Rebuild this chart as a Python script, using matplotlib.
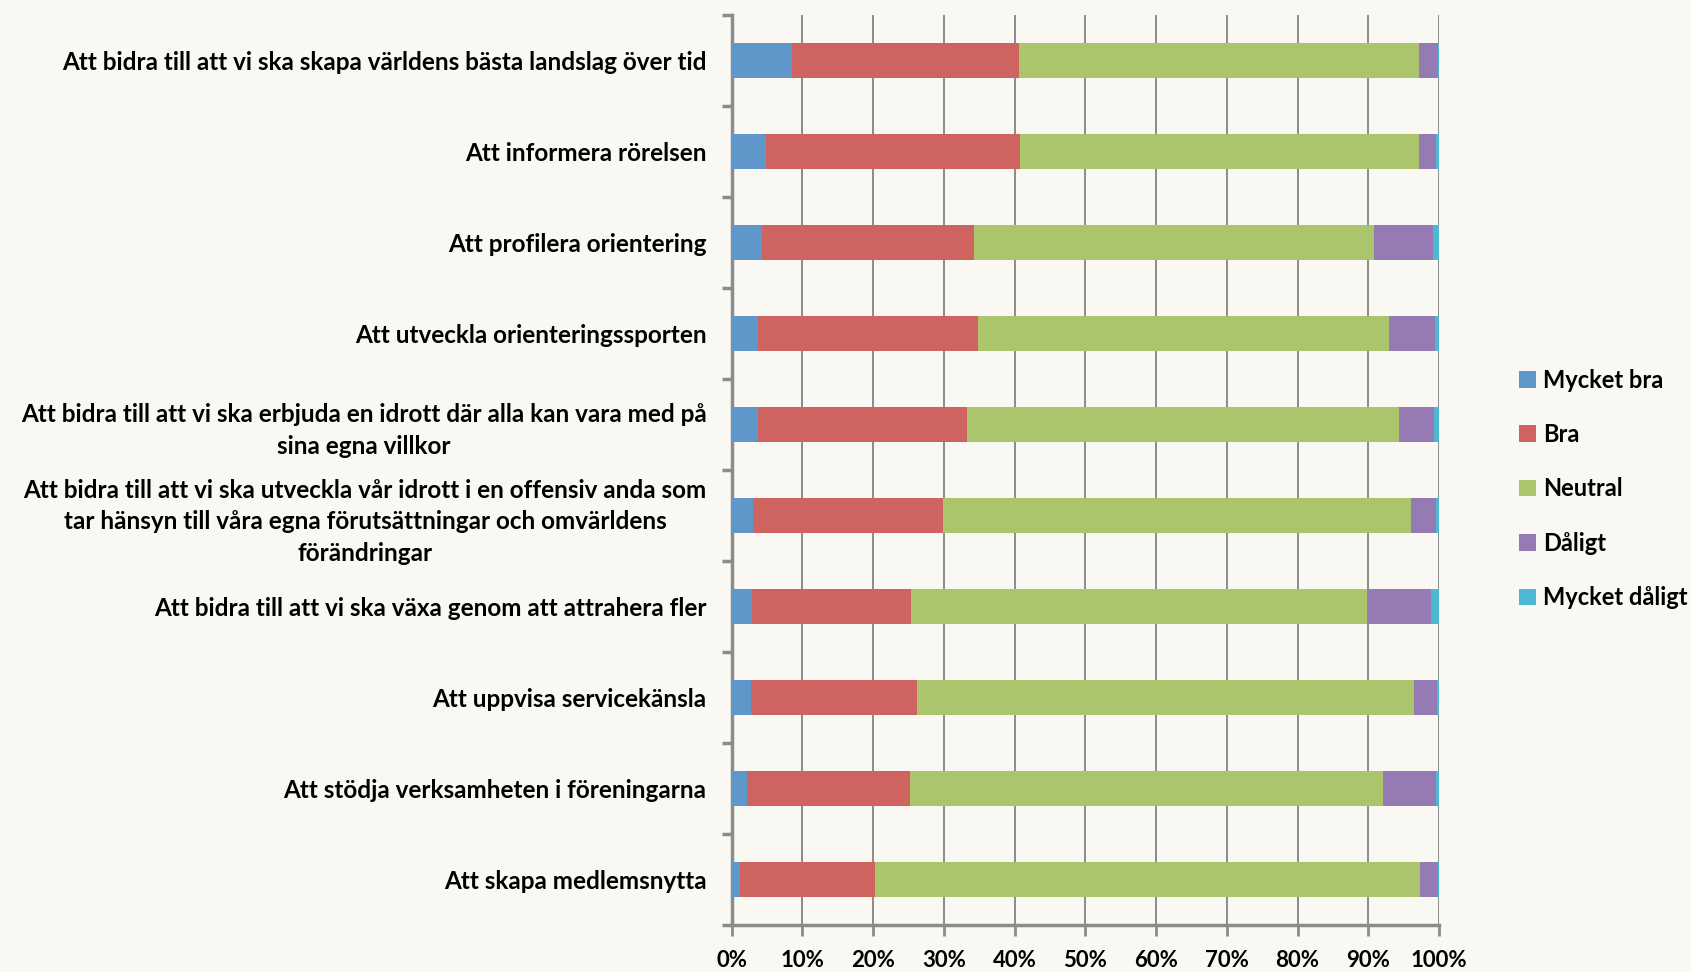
import numpy as np
import matplotlib
matplotlib.use("Agg")
import matplotlib.pyplot as plt
from matplotlib.ticker import FuncFormatter

plt.rcParams['font.family'] = ['Lato', 'DejaVu Sans']
plt.rcParams['font.weight'] = 'bold'

# Data (percent), top to bottom
LABELS = [
    "Att bidra till att vi ska skapa världens bästa landslag över tid",
    "Att informera rörelsen",
    "Att profilera orientering",
    "Att utveckla orienteringssporten",
    "Att bidra till att vi ska erbjuda en idrott där alla kan vara med på\nsina egna villkor",
    "Att bidra till att vi ska utveckla vår idrott i en offensiv anda som\ntar hänsyn till våra egna förutsättningar och omvärldens\nförändringar",
    "Att bidra till att vi ska växa genom att attrahera fler",
    "Att uppvisa servicekänsla",
    "Att stödja verksamheten i föreningarna",
    "Att skapa medlemsnytta",
]
SERIES = ["Mycket bra", "Bra", "Neutral", "Dåligt", "Mycket dåligt"]
mycket_bra = [8.6, 4.9, 4.3, 3.8, 3.8, 3.1, 2.9, 2.7, 2.2, 1.2]
bra = [32.0, 35.9, 30.0, 31.1, 29.5, 26.8, 22.4, 23.5, 23.0, 19.1]
neutral = [56.5, 56.4, 56.5, 58.0, 61.0, 66.1, 64.5, 70.3, 66.9, 77.0]
daligt = [2.7, 2.3, 8.4, 6.5, 5.0, 3.6, 9.0, 3.2, 7.4, 2.6]
mycket_daligt = [0.2, 0.5, 0.8, 0.6, 0.7, 0.4, 1.2, 0.3, 0.5, 0.1]
COLORS = ["#5f97cb", "#cf635f", "#abc56d", "#957ab3", "#4db8d2"]

BG = "#f9f8f3"
GRID = "#8c8c8c"

fig = plt.figure(figsize=(16.91, 9.72), dpi=100, facecolor=BG)
ax = fig.add_axes([0.4326, 0.0484, 0.4184, 0.9362])
ax.set_facecolor(BG)

y = np.arange(len(LABELS))
left = np.zeros(len(LABELS))
for name, vals, col in zip(SERIES, [mycket_bra, bra, neutral, daligt, mycket_daligt], COLORS):
    vals = np.array(vals)
    ax.barh(y, vals, left=left, height=0.38, color=col, label=name, zorder=3)
    left += vals

ax.set_xlim(0, 100)
ax.set_ylim(len(LABELS) - 0.5, -0.5)
ax.set_xticks(np.arange(0, 101, 10))
ax.xaxis.set_major_formatter(FuncFormatter(lambda v, p: f"{v:.0f}%"))
ax.set_yticks(y)
ax.set_yticklabels(LABELS, multialignment='center', linespacing=1.45)
ax.set_yticks(np.arange(-0.5, len(LABELS)), minor=True)
ax.tick_params(axis='y', which='major', length=0, pad=18, labelsize=17.5)
ax.tick_params(axis='y', which='minor', length=7, width=2.5, color=GRID)
ax.tick_params(axis='x', length=8, width=2, color=GRID, labelsize=16, pad=10)

ax.grid(axis='x', color=GRID, linewidth=1.4, zorder=0)
for s in ['top', 'right']:
    ax.spines[s].set_visible(False)
for s in ['left', 'bottom']:
    ax.spines[s].set_color(GRID)
    ax.spines[s].set_linewidth(2.5)

ax.legend(loc='center left', bbox_to_anchor=(0.886, 0.497), bbox_transform=fig.transFigure,
          frameon=False, fontsize=17, handlelength=0.7, handleheight=0.7,
          handletextpad=0.3, labelspacing=1.33)

fig.savefig("out.png", dpi=100, facecolor=BG)
